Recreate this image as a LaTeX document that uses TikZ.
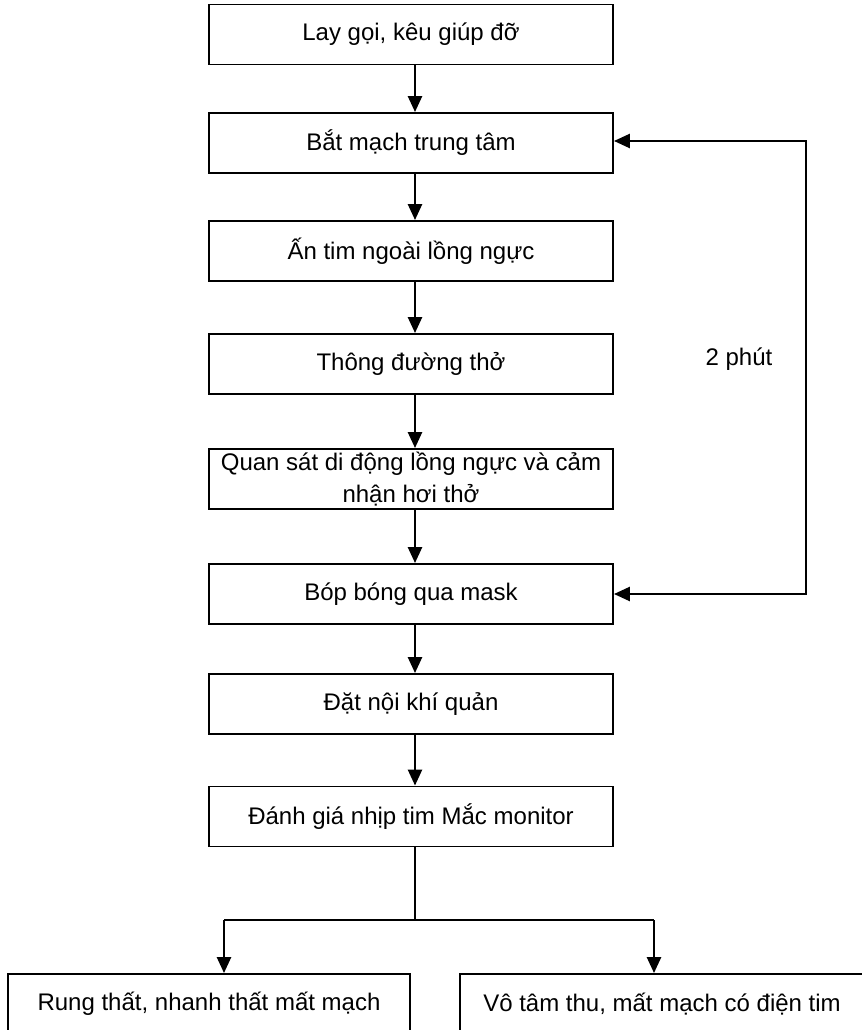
\documentclass[tikz,border=0pt]{standalone}
\usepackage{fontspec}
\setmainfont{Liberation Sans}
\usetikzlibrary{arrows.meta}
\tikzset{
  box/.style={draw, line width=1.4pt, rectangle, minimum width=404*0.75pt, minimum height=60*0.75pt, inner sep=0pt, align=center, font=\fontsize{18}{23.5}\selectfont},
  conn/.style={line width=1.9pt, line join=miter},
  tip/.tip={Triangle[length=12pt, width=10.5pt]},
  arr/.style={conn, -tip},
  lbl/.style={font=\fontsize{18}{21}\selectfont}
}
\begin{document}
\begin{tikzpicture}[x=0.75pt, y=-0.75pt]
\useasboundingbox (0,0) rectangle (861,1030);
\node[box] (b1) at (411,34.5) {Lay gọi, kêu giúp đỡ};
\node[box] (b2) at (411,143) {Bắt mạch trung tâm};
\node[box] (b3) at (411,251) {Ấn tim ngoài lồng ngực};
\node[box] (b4) at (411,364) {Thông đường thở};
\node[box] (b5) at (411,479) {Quan sát di động lồng ngực và cảm\\nhận hơi thở};
\node[box] (b6) at (411,594) {Bóp bóng qua mask};
\node[box] (b7) at (411,704) {Đặt nội khí quản};
\node[box] (b8) at (411,816.5) {Đánh giá nhịp tim Mắc monitor};
\node[box, minimum width=402*0.75pt] (bl) at (209,1004) {Rung thất, nhanh thất mất mạch};
\node[box] (br) at (662,1004) {Vô tâm thu, mất mạch có điện tim};
\node[lbl] (t) at (739,359) {2 phút};
\draw[arr] ([xshift=3pt]b1.south) -- ([xshift=3pt]b2.north);
\draw[arr] ([xshift=3pt]b2.south) -- ([xshift=3pt]b3.north);
\draw[arr] ([xshift=3pt]b3.south) -- ([xshift=3pt]b4.north);
\draw[arr] ([xshift=3pt]b4.south) -- ([xshift=3pt]b5.north);
\draw[arr] ([xshift=3pt]b5.south) -- ([xshift=3pt]b6.north);
\draw[arr] ([xshift=3pt]b6.south) -- ([xshift=3pt]b7.north);
\draw[arr] ([xshift=3pt]b7.south) -- ([xshift=3pt]b8.north);
\coordinate (sp) at (415,920);
\coordinate (sl) at (224,920);
\coordinate (sr) at (654,920);
\coordinate (lp) at (806,0);
\draw[conn] ([xshift=3pt]b8.south) -- (sp);
\draw[conn] (sl) -- (sr);
\draw[arr] (sl) -- (sl |- bl.north);
\draw[arr] (sr) -- (sr |- br.north);
\draw[conn, tip-tip] ([yshift=1.5pt]b2.east) -- ([yshift=1.5pt]b2.east -| lp) -- (b6.east -| lp) -- (b6.east);
\end{tikzpicture}
\end{document}
